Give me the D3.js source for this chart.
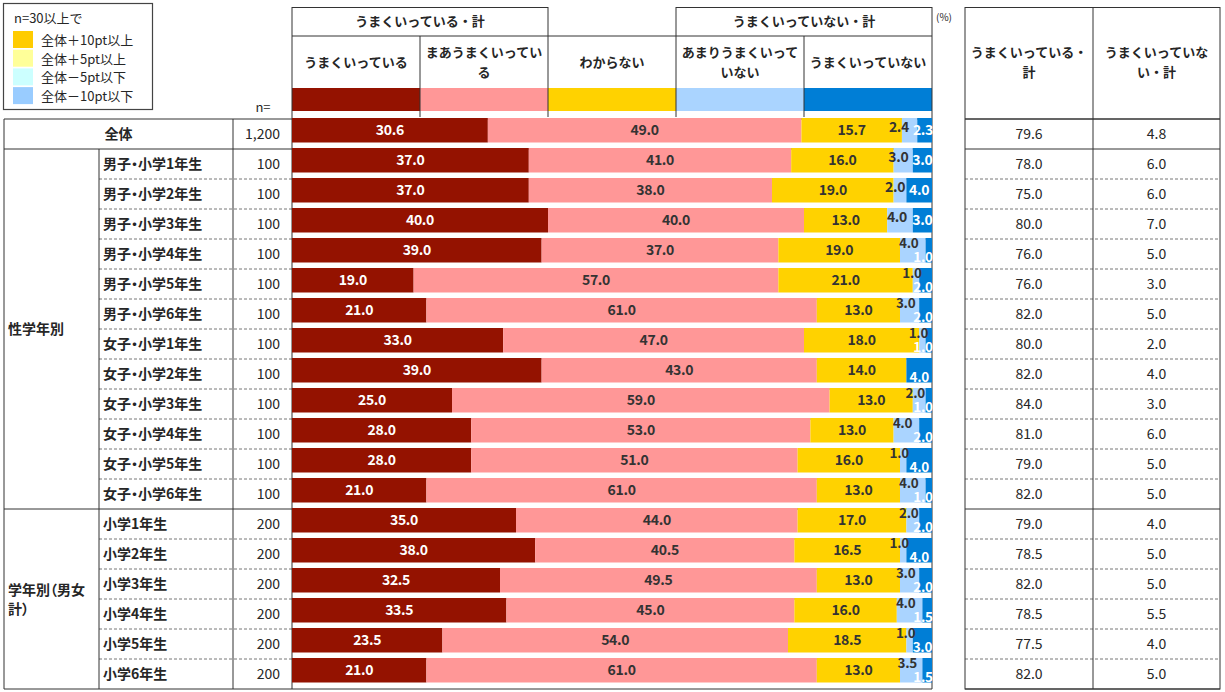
<!DOCTYPE html>
<html>
<head>
<meta charset="utf-8">
<script src="https://cdn.jsdelivr.net/npm/d3@7"></script>
<style>
  body { margin:0; background:#fff; }
  svg text { font-family:"Noto Sans CJK JP","Noto Sans",sans-serif; fill:#262626; }
  .palt { font-feature-settings:"palt"; }
</style>
</head>
<body>
<svg id="vis" width="1225" height="692"></svg>
<script>
// ---- data ----
var seriesNames = ["うまくいっている","まあうまくいっている","わからない","あまりうまくいっていない","うまくいっていない"];
var rowLabels = ["全体",
  "男子・小学1年生","男子・小学2年生","男子・小学3年生","男子・小学4年生","男子・小学5年生","男子・小学6年生",
  "女子・小学1年生","女子・小学2年生","女子・小学3年生","女子・小学4年生","女子・小学5年生","女子・小学6年生",
  "小学1年生","小学2年生","小学3年生","小学4年生","小学5年生","小学6年生"];
var nValues = ["1,200","100","100","100","100","100","100","100","100","100","100","100","100","200","200","200","200","200","200"];
var umaku    = [30.6,37,37,40,39,19,21,33,39,25,28,28,21,35,38,32.5,33.5,23.5,21];
var maaUmaku = [49.0,41,38,40,37,57,61,47,43,59,53,51,61,44,40.5,49.5,45,54,61];
var wakaranai= [15.7,16,19,13,19,21,13,18,14,13,13,16,13,17,16.5,13,16,18.5,13];
var amari    = [2.4,3,2,4,4,1,3,1,0,2,4,1,4,2,1,3,4,1,3.5];
var umakuNai = [2.3,3,4,3,1,2,2,1,4,1,2,4,1,2,4,2,1.5,3,1.5];
var totalGood = [79.6,78,75,80,76,76,82,80,82,84,81,79,82,79,78.5,82,78.5,77.5,82];
var totalBad  = [4.8,6,6,7,5,3,5,2,4,3,6,5,5,4,5,5,5.5,4,5];
var groupNames = ["性学年別","学年別（男女|計）"];
var groupRows = [[1,12],[13,18]];
var legendTitle = "n=30以上で";
var legendItems = ["全体＋10pt以上","全体＋5pt以上","全体－5pt以下","全体－10pt以下"];

var colors = ["#941200","#FF9797","#FFD200","#AAD4FF","#007ED6"];
var labelColors = ["#fff","#333","#333","#333","#fff"];
var legendColors = ["#FFCC00","#FFFF99","#CCFFFF","#99CCFF"];

var svg = d3.select("#vis");
var fmt = d3.format(".1f");
var line = "#333";

var x = d3.scaleLinear().domain([0,100]).range([292,932]);
var y = d3.scaleBand().domain(d3.range(rowLabels.length)).range([119,689]);
var rowH = y.bandwidth();

var data = rowLabels.map(function(d,i){
  var vals = [umaku[i],maaUmaku[i],wakaranai[i],amari[i],umakuNai[i]];
  var acc = 0, segs = [];
  vals.forEach(function(v,k){ segs.push({row:i,k:k,v:v,x0:acc,x1:acc+v}); acc += v; });
  return {i:i,label:d,n:nValues[i],segs:segs};
});

// ---- legend box ----
var lg = svg.append("g");
lg.append("rect").attr("x",3.5).attr("y",3.5).attr("width",149).attr("height",106)
  .attr("fill","#fff").attr("stroke","#444").attr("stroke-width",1.2);
lg.append("text").attr("x",14).attr("y",23).style("font-size","13px").text(legendTitle);
legendItems.forEach(function(t,k){
  lg.append("rect").attr("x",13).attr("y",31+k*18.7).attr("width",20).attr("height",17).attr("fill",legendColors[k]);
  lg.append("text").attr("x",41).attr("y",45+k*18.7).style("font-size","13px").text(t);
});

// ---- header ----
var hd = svg.append("g");
var colW = x(20)-x(0);
function hl(x1,x2,yy,dash){ svg.append("line").attr("x1",x1).attr("x2",x2).attr("y1",yy).attr("y2",yy)
  .attr("stroke",dash?"#777":line).attr("stroke-width",1).attr("stroke-dasharray",dash?"3,2":null); }
function vl(xx,y1,y2){ svg.append("line").attr("x1",xx).attr("x2",xx).attr("y1",y1).attr("y2",y2)
  .attr("stroke",line).attr("stroke-width",1); }

hl(x(0),x(40),7.5); hl(x(60),x(100),7.5);
hl(x(0),x(100),36);
[0,40,60,100].forEach(function(p){ vl(x(p),7,117); });
[20,80].forEach(function(p){ vl(x(p),36,117); });
hd.append("text").attr("x",x(20)).attr("y",26).attr("text-anchor","middle").style("font-size","13px").style("font-weight","bold").text("うまくいっている・計");
hd.append("text").attr("x",x(80)).attr("y",26).attr("text-anchor","middle").style("font-size","13px").style("font-weight","bold").text("うまくいっていない・計");
hd.append("text").attr("x",936).attr("y",21).style("font-size","10px").text("(%)");

var headLines = [["うまくいっている"],["まあうまくいってい","る"],["わからない"],["あまりうまくいって","いない"],["うまくいっていない"]];
headLines.forEach(function(lines,k){
  var cx = x(k*20+10);
  var y0 = lines.length==1 ? 67 : 57;
  lines.forEach(function(t,j){
    hd.append("text").attr("x",cx).attr("y",y0+j*20).attr("text-anchor","middle")
      .style("font-size","13px").style("font-weight","bold").text(t);
  });
  hd.append("rect").attr("x",x(k*20)).attr("y",88).attr("width",colW).attr("height",23).attr("fill",colors[k]);
});
hd.append("text").attr("x",263).attr("y",112).attr("text-anchor","middle").style("font-size","13px").text("n=");

// ---- row lines (under bars) ----
data.forEach(function(d){
  var yy = y(d.i);
  if(d.i==0 || d.i==1 || d.i==13){ hl(4,932,yy); hl(965,1220,yy); }
  else { hl(99,932,yy,true); hl(965,1220,yy,true); }
});
hl(4,932,689); hl(965,1220,689);
vl(4,119,689); vl(233,119,689); vl(99,149,689); vl(932,117,689); vl(292,117,689);

// ---- bars ----
var rows = svg.append("g").selectAll("g.row").data(data).enter().append("g").attr("class","row");
rows.selectAll("rect").data(function(d){ return d.segs; }).enter().append("rect")
  .attr("x",function(s){ return x(s.x0); })
  .attr("width",function(s){ return x(s.x1)-x(s.x0); })
  .attr("y",function(s){ return y(s.row)-1; })
  .attr("height",24.5)
  .attr("fill",function(s){ return colors[s.k]; });

rows.each(function(d){
  var g = d3.select(this);
  var cy = y(d.i)-1+12.25;
  var lb = d.segs[3], bl = d.segs[4];
  var stagger = bl.v < 2.2 || lb.v < 2;
  var blX = Math.min((x(bl.x0)+x(bl.x1))/2, 923);
  d.segs.forEach(function(s){
    if(s.v<=0) return;
    var cx = (x(s.x0)+x(s.x1))/2, dy = 0, fs = 14;
    if(s.k==4){ cx = blX; dy = stagger ? 7 : 0; }
    if(s.k==3){
      if(stagger){ cx = cx-4; dy = -7; }
      else { cx = Math.min(cx-3, blX-24); dy = -3; }
    }
    if(s.k>=3 && stagger) fs = 13.5;
    g.append("text").attr("x",cx).attr("y",cy+dy+5)
      .attr("text-anchor","middle").style("font-size",fs+"px").style("font-weight","bold")
      .style("fill",labelColors[s.k]).style("letter-spacing","-0.3px")
      .text(fmt(s.v));
  });
});

// ---- left table ----
data.forEach(function(d){
  var cy = y(d.i)+rowH/2+5;
  if(d.i==0){
    svg.append("text").attr("x",(4+233)/2).attr("y",cy).attr("text-anchor","middle").style("font-size","14px").style("font-weight","bold").text(d.label);
  } else {
    svg.append("text").attr("class","palt").attr("x",103).attr("y",cy).style("font-size","14px").style("font-weight","bold").text(d.label);
  }
  svg.append("text").attr("x",280).attr("y",cy).attr("text-anchor","end").style("font-size","14px").text(d.n);
});
groupNames.forEach(function(g,k){
  var parts = g.split("|");
  var top = y(groupRows[k][0]), bot = y(groupRows[k][1])+rowH;
  var mid = (top+bot)/2;
  parts.forEach(function(t,j){
    svg.append("text").attr("class","palt").attr("x",8).attr("y",mid+5+(j-(parts.length-1)/2)*19)
      .style("font-size","14px").style("font-weight","bold").text(t);
  });
});

// ---- right table ----
svg.append("rect").attr("x",965).attr("y",7.5).attr("width",255).attr("height",681.5)
  .attr("fill","none").attr("stroke",line);
vl(1093,7,689);
hl(965,1220,119);
[["うまくいっている・","計"],["うまくいっていな","い・計"]].forEach(function(lines,k){
  var cx = k==0 ? 1029 : 1156.5;
  lines.forEach(function(t,j){
    svg.append("text").attr("x",cx).attr("y",57+j*20).attr("text-anchor","middle")
      .style("font-size","13px").style("font-weight","bold").text(t);
  });
});
data.forEach(function(d){
  var cy = y(d.i)+rowH/2+5;
  svg.append("text").attr("x",1029).attr("y",cy).attr("text-anchor","middle").style("font-size","14px").text(fmt(totalGood[d.i]));
  svg.append("text").attr("x",1156.5).attr("y",cy).attr("text-anchor","middle").style("font-size","14px").text(fmt(totalBad[d.i]));
});
</script>
</body>
</html>
